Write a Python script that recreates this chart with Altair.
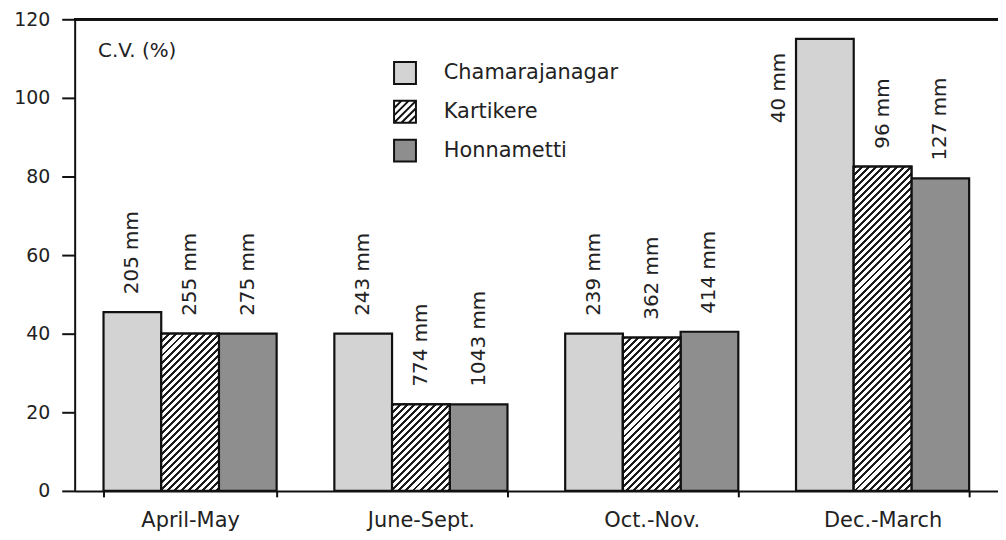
import math
import altair as alt

# ---------------- data ----------------
seasons = ["April-May", "June-Sept.", "Oct.-Nov.", "Dec.-March"]
series = ["Chamarajanagar", "Kartikere", "Honnametti"]

cham_cv = [45.5, 40.0, 40.0, 115.0]
kart_cv = [40.0, 22.0, 39.0, 82.5]
honn_cv = [40.0, 22.0, 40.5, 79.5]

cham_rain = [205, 243, 239, 40]
kart_rain = [255, 774, 362, 96]
honn_rain = [275, 1043, 414, 127]

# ---------------- layout / style ----------------
PLOT_W = 928
PLOT_H = 474
Y_MAX = 120
FONT = "DejaVu Sans"
BAR_W = PLOT_W / 4 * 0.75 / 3
fill_colors = ["#d3d3d3", "#ffffff", "#8e8e8e"]
HATCH_PATH = ("M-1,-1H1V1H-1Z"
              "M-1,-0.33L-0.33,-1M-1,0.33L0.33,-1M-1,1L1,-1"
              "M-0.33,1L1,-0.33M0.33,1L1,0.33")
legend_shapes = ["square", HATCH_PATH, "square"]


def hatch(w, h, period=5.0, dark=0.42):
    s = (1 / h + 1 / w) / (1 / h ** 2 + 1 / w ** 2)
    a, b = s / h, s / w
    n = (w + h) / math.sqrt(2) / period
    stops = []
    k = 0
    while k / n < 1:
        t0 = k / n
        t1 = min((k + dark) / n, 1)
        t2 = min((k + 1) / n, 1)
        stops += [
            {"offset": t0, "color": "#1c1c1c"},
            {"offset": t1, "color": "#1c1c1c"},
            {"offset": t1, "color": "#ffffff"},
            {"offset": t2, "color": "#ffffff"},
        ]
        k += 1
    return {"gradient": "linear", "x1": 0, "y1": 0, "x2": a, "y2": b, "stops": stops}


records = []
for name, cvs, rains in [
    ("Chamarajanagar", cham_cv, cham_rain),
    ("Kartikere", kart_cv, kart_rain),
    ("Honnametti", honn_cv, honn_rain),
]:
    for season, cv, rain in zip(seasons, cvs, rains):
        rec = {"season": season, "series": name, "cv": cv, "rain": f"{rain} mm"}
        if name == "Kartikere":
            rec["hatch"] = hatch(BAR_W, cv * PLOT_H / Y_MAX)
        records.append(rec)

data = alt.Data(values=records)


def make_legend():
    return alt.Legend(
        title=None,
        orient="none",
        legendX=320,
        legendY=42,
        symbolSize=484,
        symbolStrokeColor="#111111",
        symbolStrokeWidth=2,
        symbolOpacity=1,
        labelFont=FONT,
        labelFontSize=21,
        labelColor="#222222",
        labelOffset=27,
        labelLimit=400,
        rowPadding=9,
    )


fill_scale = alt.Scale(domain=series, range=fill_colors)

x_enc = alt.X(
    "season:N",
    sort=seasons,
    scale=alt.Scale(paddingInner=0.25, paddingOuter=0.125),
    axis=alt.Axis(
        title=None,
        labelAngle=0,
        labelFont=FONT,
        labelFontSize=21,
        labelColor="#222222",
        labelPadding=13,
        domainColor="#111111",
        domainWidth=2,
        tickColor="#111111",
        tickWidth=2,
        tickSize=6,
        tickBand="extent",
    ),
)
xo_enc = alt.XOffset("series:N", sort=series, scale=alt.Scale(paddingInner=0, paddingOuter=0))
y_enc = alt.Y(
    "cv:Q",
    scale=alt.Scale(domain=[0, Y_MAX], nice=False),
    axis=alt.Axis(
        title="C.V. (%)",
        titleAngle=0,
        titleX=23,
        titleY=31,
        titleAlign="left",
        titleBaseline="middle",
        titleFont=FONT,
        titleFontSize=20,
        titleFontWeight="normal",
        titleColor="#222222",
        values=list(range(0, Y_MAX + 1, 10)),
        labelExpr="datum.value % 20 === 0 ? datum.label : ''",
        labelFont=FONT,
        labelFontSize=19,
        labelColor="#222222",
        labelPadding=12,
        domainColor="#111111",
        domainWidth=2,
        tickColor="#111111",
        tickWidth=2,
        tickSize={"condition": {"test": "datum.value % 20 === 0", "value": 13}, "value": 8},
        grid=False,
    ),
)

bars = alt.Chart(data).mark_bar(stroke="#111111", strokeWidth=2.2).encode(
    x=x_enc,
    xOffset=xo_enc,
    y=y_enc,
    fill=alt.Fill("series:N", sort=series, scale=fill_scale, legend=make_legend()),
)

legend_points = alt.Chart(data).mark_point(
    filled=True, size=484, opacity=0, stroke="#111111", strokeWidth=2
).encode(
    x=alt.X("season:N", sort=seasons),
    xOffset=alt.XOffset("series:N", sort=series),
    y=alt.Y("cv:Q"),
    fill=alt.Fill("series:N", sort=series, scale=fill_scale, legend=make_legend()),
    shape=alt.Shape("series:N", sort=series,
                    scale=alt.Scale(domain=series, range=legend_shapes),
                    legend=make_legend()),
)

hatch_bars = alt.Chart(data).transform_filter(
    "datum.series === 'Kartikere'"
).mark_bar(stroke="#111111", strokeWidth=2.2).encode(
    x=alt.X("season:N", sort=seasons),
    xOffset=alt.XOffset("series:N", sort=series),
    y=alt.Y("cv:Q"),
    fill=alt.Fill("hatch:N", scale=None),
)

labels = alt.Chart(data).transform_filter("datum.cv <= 100").mark_text(
    angle=270, align="left", baseline="middle", dx=18,
    font=FONT, fontSize=20, color="#222222",
).encode(
    x=alt.X("season:N", sort=seasons),
    xOffset=alt.XOffset("series:N", sort=series),
    y=alt.Y("cv:Q"),
    text="rain:N",
)

labels_tall = alt.Chart(data).transform_filter("datum.cv > 100").mark_text(
    angle=270, align="right", baseline="middle", dx=-14, dy=-46,
    font=FONT, fontSize=20, color="#222222",
).encode(
    x=alt.X("season:N", sort=seasons),
    xOffset=alt.XOffset("series:N", sort=series),
    y=alt.Y("cv:Q"),
    text="rain:N",
)

top_line = alt.Chart(data).mark_rule(color="#111111", strokeWidth=2).encode(
    y=alt.datum(Y_MAX)
)

chart = alt.layer(bars, hatch_bars, legend_points, labels, labels_tall, top_line).properties(
    width=PLOT_W,
    height=PLOT_H,
    padding={"left": 67, "top": 10, "right": 0, "bottom": 44},
    autosize=alt.AutoSizeParams(type="none"),
    background="white",
).configure_view(stroke=None)

chart.save("out.html", embed_options={"renderer": "svg", "actions": False})
